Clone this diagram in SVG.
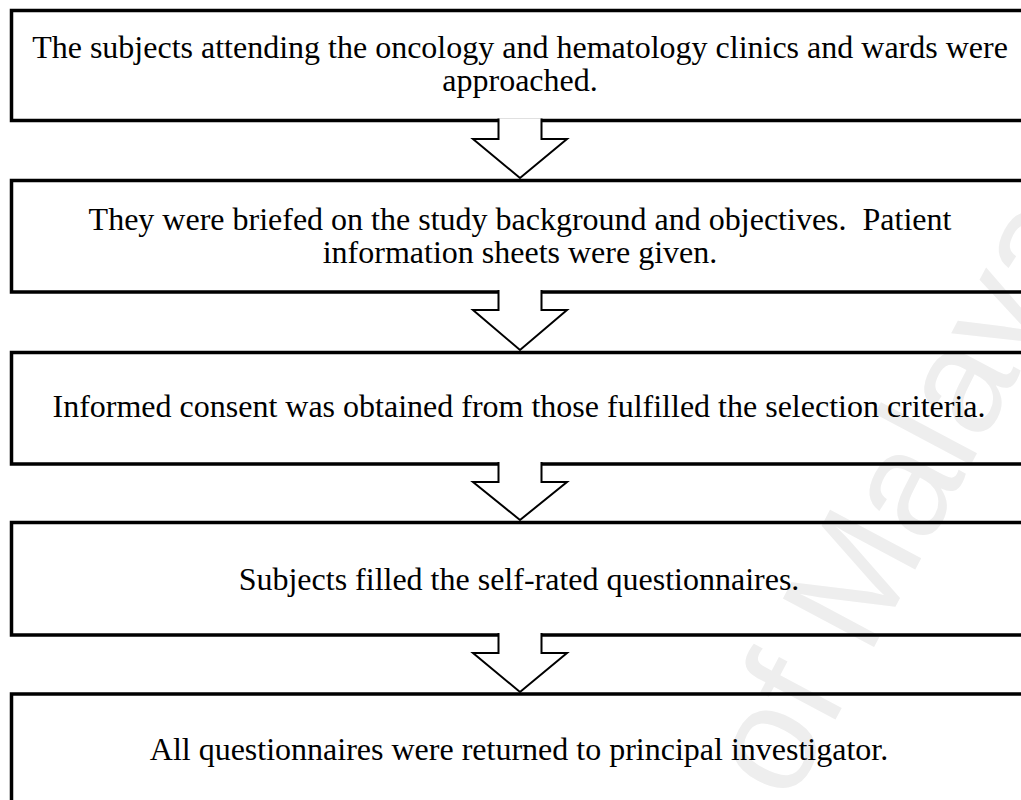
<svg xmlns="http://www.w3.org/2000/svg" width="1021" height="800" viewBox="0 0 1021 800">
<style>
.box{fill:none;stroke:#000;stroke-width:3.5}
.arr{fill:#fff;stroke:#000;stroke-width:2;stroke-linejoin:miter}
.t{font-family:"Liberation Serif","Times New Roman",serif;font-size:32px;fill:#000;text-anchor:middle}
.wm{font-family:"Liberation Sans",Arial,sans-serif;font-size:150px;fill:#eeeeee}
</style>
<rect width="1021" height="800" fill="#fff"/>
<text class="wm" transform="translate(790,805) rotate(-62)">of Malaya</text>
<g id="node1">
<rect class="box" x="11.5" y="10.5" width="1040" height="110"/>
<text class="t" x="520" y="57.5">The subjects attending the oncology and hematology clinics and wards were</text>
<text class="t" x="520" y="91">approached.</text>
</g>
<g id="node2">
<rect class="box" x="11.5" y="180.5" width="1040" height="111.5"/>
<text class="t" x="520" y="229.5" xml:space="preserve">They were briefed on the study background and objectives.  Patient</text>
<text class="t" x="520" y="263">information sheets were given.</text>
</g>
<g id="node3">
<rect class="box" x="11.5" y="352.5" width="1040" height="111.5"/>
<text class="t" x="519" y="417">Informed consent was obtained from those fulfilled the selection criteria.</text>
</g>
<g id="node4">
<rect class="box" x="11.5" y="522.5" width="1040" height="112.5"/>
<text class="t" x="519" y="590">Subjects filled the self-rated questionnaires.</text>
</g>
<g id="node5">
<rect class="box" x="11.5" y="694" width="1040" height="130"/>
<text class="t" x="519" y="760">All questionnaires were returned to principal investigator.</text>
</g>
<g id="connectors">
<path class="arr" d="M498.5,118.5 V139 H473 L520,178 L567,139 H541.5 V118.5"/>
<path class="arr" d="M498.5,290 V310 H473 L520,350 L567,310 H541.5 V290"/>
<path class="arr" d="M498.5,462 V482 H473 L520,520 L567,482 H541.5 V462"/>
<path class="arr" d="M498.5,633 V653 H473 L520,692 L567,653 H541.5 V633"/>
</g>
</svg>
